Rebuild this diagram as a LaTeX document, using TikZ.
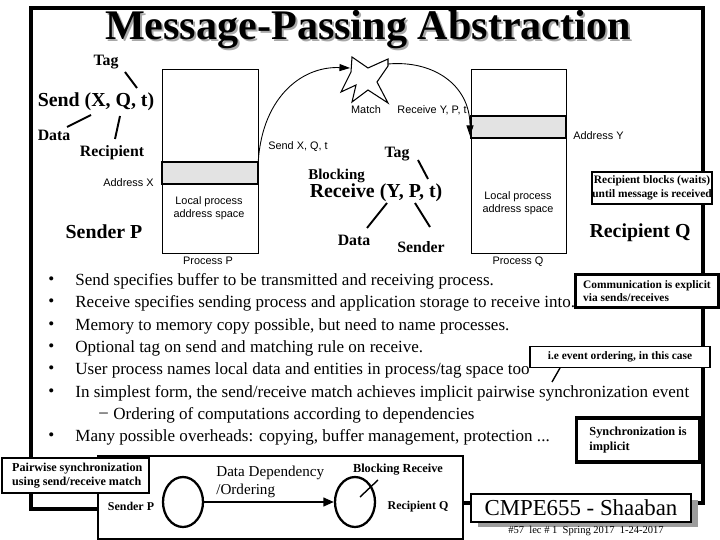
\documentclass[tikz,border=0pt]{standalone}
\usepackage{fontspec}
\setmainfont{Liberation Serif}
\setsansfont{Liberation Sans}
\definecolor{bandgray}{HTML}{E3E3E3}
\definecolor{shadowgray}{HTML}{9C9C9C}
\definecolor{titleshade}{HTML}{A8A8A8}
\usetikzlibrary{arrows.meta,shapes.geometric,calc}

\begin{document}
\begin{tikzpicture}[x=0.02cm,y=-0.02cm,
  lbl/.style={font=\fontsize{9}{10}\selectfont\bfseries,inner sep=0pt},
  big/.style={font=\fontsize{11.3}{13}\selectfont\bfseries,inner sep=0pt},
  tiny/.style={font=\sffamily\fontsize{6.2}{7.4}\selectfont,inner sep=0pt,align=center},
  ptr/.style={line width=1.1pt},
  flow/.style={line width=0.5pt,-{Triangle[length=6pt,width=4pt]}},
  bul/.style={font=\fontsize{9.7}{12}\selectfont,anchor=west,inner sep=0pt},
  note/.style={draw,line width=1.1pt,fill=white,font=\fontsize{6.5}{7.8}\selectfont\bfseries,
    align=left,inner sep=0pt,anchor=north west}]
  \useasboundingbox (0,0) rectangle (720,540);
  % slide frame
  \draw[line width=1.8pt] (97,509) -| (31,8) -| (703,503) -- (462,503);
  % title with its shadow
  \node[font=\fontsize{24}{26}\selectfont\bfseries,text=titleshade,inner sep=0pt] at (370,32) {Message-Passing Abstraction};
  \node[font=\fontsize{24}{26}\selectfont\bfseries,inner sep=0pt] (title) at (368,30) {Message-Passing Abstraction};

  % sender side
  \node[lbl] (tagS) at (106,62) {Tag};
  \node[big] (send) at (96,102) {Send (X, Q, t)};
  \node[lbl] (dataS) at (54,135) {Data};
  \node[lbl] (recip) at (112,153) {Recipient};
  \coordinate (tagA) at (125,72);  \coordinate (tagB) at (137,88);
  \coordinate (dataA) at (67,127); \coordinate (dataB) at (91,115);
  \coordinate (recA) at (115,139); \coordinate (recB) at (120,116);
  \draw[ptr] (tagA) -- (tagB);
  \draw[ptr] (dataA) -- (dataB);
  \draw[ptr] (recA) -- (recB);
  \node[tiny,anchor=east] (addrX) at (154,183) {Address X};
  \node[big] (senderP) at (104,232) {Sender P};
  \filldraw[fill=bandgray,line width=0.6pt] (162,162) rectangle (258,184);
  \node[draw,line width=0.6pt,anchor=north west,minimum width=1.92cm,minimum height=3.68cm] (procP) at (162,69) {};
  \node[tiny] (localP) at (209,208.5) {Local process\\address space};
  \node[tiny] (nameP) at (208,261) {Process P};

  % receiver side
  \filldraw[fill=bandgray,line width=0.6pt] (471,116) rectangle (566,138);
  \node[draw,line width=0.6pt,anchor=north west,minimum width=1.9cm,minimum height=3.68cm] (procQ) at (471,69) {};
  \node[tiny,anchor=west] (addrY) at (573,136) {Address Y};
  \node[tiny] (localQ) at (518,203.5) {Local process\\address space};
  \node[tiny] (nameQ) at (518,262) {Process Q};
  \node[big] (recipQ) at (640,233) {Recipient Q};

  % match
  \draw[line width=0.6pt,fill=white] (352,57) -- (368,68) -- (388,59) -- (388,66) -- (377,82) -- (388,103)
    -- (368,90) -- (352,102) -- (356,85) -- (341,92) -- (351,72) -- cycle;
  \node[tiny] (match) at (366,110) {Match};
  \node[tiny] (recvlbl) at (432,110) {Receive Y, P, t};
  \node[tiny] (sendlbl) at (298,147) {Send X, Q, t};
  \coordinate (sendout) at (258,167);
  \coordinate (matchin) at (350,68);
  \coordinate (matchout) at (388,64);
  \coordinate (recvin) at (470,136);
  \draw[flow] (sendout) .. controls (260,100) and (300,66) .. (matchin);
  \draw[flow] (matchout) .. controls (432,60) and (470,84) .. (recvin);

  % blocking receive
  \node[lbl] (tagR) at (397,154) {Tag};
  \node[font=\fontsize{8.5}{10}\selectfont\bfseries,inner sep=0pt,anchor=west] (blocking) at (308,176) {Blocking};
  \node[big] (recv) at (376,193) {Receive (Y, P, t)};
  \node[lbl] (dataR) at (354,240) {Data};
  \node[lbl] (senderR) at (421,247) {Sender};
  \coordinate (tagRA) at (418,160); \coordinate (tagRB) at (428,179);
  \coordinate (dataRA) at (387,203); \coordinate (dataRB) at (367,228);
  \coordinate (sndRA) at (415,203); \coordinate (sndRB) at (430,227);
  \draw[ptr] (tagRA) -- (tagRB);
  \draw[ptr] (dataRA) -- (dataRB);
  \draw[ptr] (sndRA) -- (sndRB);

  % bullet list
  \foreach \y/\txt [count=\i] in {281/{Send specifies buffer to be transmitted and receiving process.},
      303/{Receive specifies sending process and application storage to receive into.},
      326/{Memory to memory copy possible, but need to name processes.},
      348/{Optional tag on send and matching rule on receive.},
      370/{User process names local data and entities in process/tag space too},
      393/{In simplest form, the send/receive match achieves implicit pairwise synchronization event},
      437/{Many possible overheads: copying, buffer management, protection ...}} {
    \node[bul] (dot\i) at (48,\y) {\textbullet};
    \node[bul] (b\i) at (75,\y) {\txt};
  }
  \node[bul] (dash) at (99,415) {--};
  \node[bul] (sub) at (113,415) {Ordering of computations according to dependencies};

  % callouts
  \node[note,minimum width=2.36cm,minimum height=0.64cm,align=center,anchor=center] (blocks) at (652,188)
    {Recipient blocks (waits)\\until message is received};
  \node[note,line width=1.7pt,minimum width=2.86cm,minimum height=0.66cm,anchor=center] (explicit) at (647,291)
    {Communication is explicit\\via sends/receives\hspace*{2.2em}};
  \node[note,minimum width=3.6cm,minimum height=0.42cm,anchor=center] (order) at (620,357)
    {i.e event ordering, in this case};
  \coordinate (orderA) at (560,368); \coordinate (orderB) at (552,382);
  \draw[line width=0.8pt] (orderA) -- (orderB);
  \node[note,line width=2pt,minimum width=2.46cm,minimum height=0.88cm,font=\fontsize{7}{9}\selectfont\bfseries,anchor=center] (implicit) at (638,440)
    {Synchronization is\\implicit\hspace*{3.4em}};

  % pairwise synchronization example
  \node[draw,line width=0.9pt,fill=white,anchor=north west,minimum width=7.3cm,minimum height=1.66cm] (pairbox) at (97,455) {};
  \node[note,minimum width=2.94cm,minimum height=0.7cm,font=\fontsize{6.9}{8.2}\selectfont\bfseries,anchor=north west] (pairwise) at (1,457)
    {\hspace*{0.3em}Pairwise synchronization\\\hspace*{0.3em}using send/receive match};
  \node[ellipse,draw,line width=1.3pt,minimum width=0.8cm,minimum height=1cm] (circP) at (183,502) {};
  \node[ellipse,draw,line width=1.3pt,minimum width=0.8cm,minimum height=1cm] (circQ) at (355,502) {};
  \draw[line width=1.1pt,-{Triangle[length=6pt,width=5pt]}] (circP) -- (circQ);
  \node[font=\fontsize{8.6}{10}\selectfont,inner sep=0pt,anchor=west,align=left] (dep) at (216,482)
    {Data Dependency\\/Ordering};
  \node[font=\fontsize{7}{8}\selectfont\bfseries,inner sep=0pt] (blkrecv) at (398,470) {Blocking Receive};
  \coordinate (blkA) at (378,480); \coordinate (blkB) at (360,497);
  \draw[line width=0.8pt] (blkA) -- (blkB);
  \node[font=\fontsize{6.8}{8}\selectfont\bfseries,inner sep=0pt] (sendP2) at (131,506) {Sender P};
  \node[font=\fontsize{6.8}{8}\selectfont\bfseries,inner sep=0pt] (recQ2) at (418,507) {Recipient Q};

  % course banner
  \fill[shadowgray] (478,500) rectangle (698,527);
  \node[draw,line width=1.1pt,fill=white,anchor=north west,minimum width=4.4cm,minimum height=0.54cm,
    font=\fontsize{13}{15}\selectfont] (banner) at (470,493) {CMPE655 - Shaaban};
  \node[font=\fontsize{6}{7}\selectfont,inner sep=0pt] (footer) at (586,531) {\#57\ \ lec \# 1\ \ Spring 2017\ \ 1-24-2017};
\end{tikzpicture}
\end{document}
